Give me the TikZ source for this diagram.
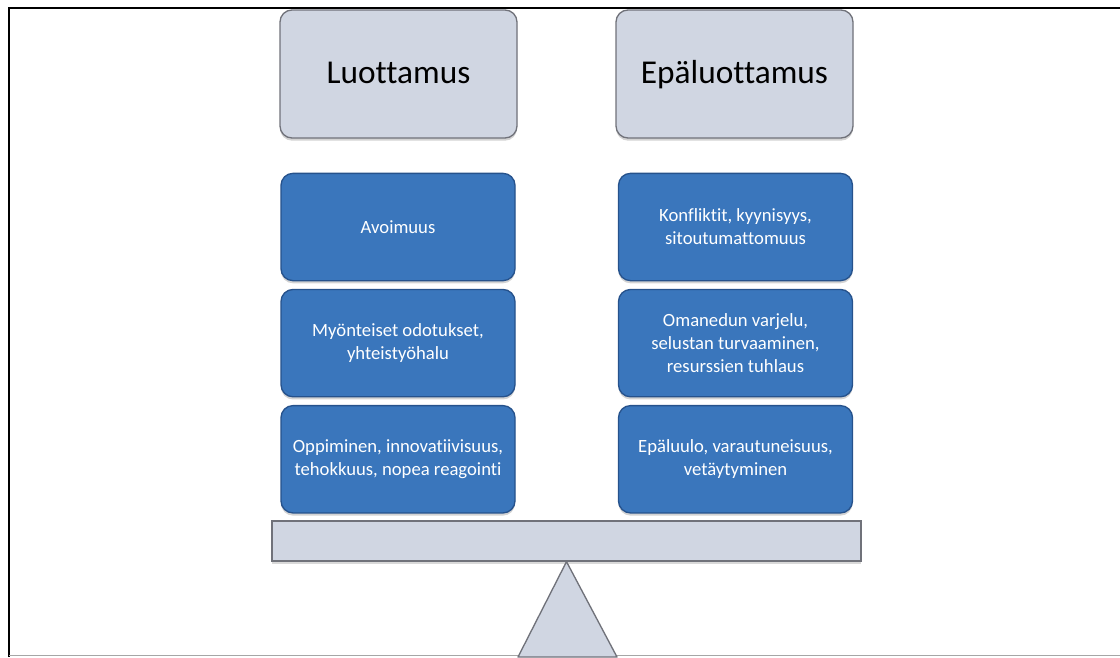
\documentclass[tikz,border=0pt]{standalone}
\usepackage{fontspec}
\setmainfont{Carlito}[Ligatures=NoCommon]
\usetikzlibrary{positioning,shadows}
\definecolor{scalesilver}{RGB}{208,214,226}
\definecolor{scaleedge}{RGB}{112,114,122}
\definecolor{itemblue}{RGB}{58,118,188}
\definecolor{itemedge}{RGB}{38,82,140}

\begin{document}
\begin{tikzpicture}[
x=0.75pt,y=-0.75pt,
node distance=5.6pt,
head/.style={draw=scaleedge,line width=1pt,rounded corners=9pt,fill=scalesilver,align=center,minimum width=177.75pt,minimum height=96pt,text height=17.5pt,text depth=4pt,font=\fontsize{25}{30}\selectfont,drop shadow={opacity=0.35,shadow xshift=0pt,shadow yshift=-2pt}},
item/.style={draw=itemedge,line width=1pt,rounded corners=9pt,fill=itemblue,text=white,align=center,minimum width=175.5pt,minimum height=80.5pt,inner sep=1pt,font=\fontsize{14}{17.2}\selectfont,drop shadow={opacity=0.35,shadow xshift=0pt,shadow yshift=-2pt}},
beam/.style={draw=scaleedge,line width=1pt,fill=scalesilver,minimum width=441.75pt,minimum height=30pt,inner sep=0pt,drop shadow={opacity=0.3,shadow xshift=0pt,shadow yshift=-2pt}},
fulcrum/.style={draw=scaleedge,line width=1pt,fill=scalesilver,line join=round}
]
\useasboundingbox (0,0) rectangle (1120,657);
% frame
\draw[line width=1.5pt] (9,657) -- (9,8) -- (1120,8);
\draw[gray!70] (9,655.5) -- (1120,655.5);
% headings
\node[head] (trust) at (398.5,74) {Luottamus};
\node[head] (distrust) at (734.5,74) {Epäluottamus};
% left pan
\node[item] (open) at (398,227) {Avoimuus};
\node[item, below=of open] (positive) {Myönteiset odotukset,\\yhteistyöhalu};
\node[item, below=of positive] (learning) {Oppiminen, innovatiivisuus,\\tehokkuus, nopea reagointi};
% right pan
\node[item] (conflict) at (735.5,227) {Konfliktit, kyynisyys,\\sitoutumattomuus};
\node[item, below=of conflict] (selfish) {Omanedun varjelu,\\selustan turvaaminen,\\resurssien tuhlaus};
\node[item, below=of selfish] (suspicion) {Epäluulo, varautuneisuus,\\vetäytyminen};
% scale
\node[beam] (beam) at (566.5,541) {};
\coordinate (footL) at (518,657);
\coordinate (footR) at (617,657);
\draw[fulcrum] (beam.south) -- (footR) -- (footL) -- cycle;
\end{tikzpicture}
\end{document}
